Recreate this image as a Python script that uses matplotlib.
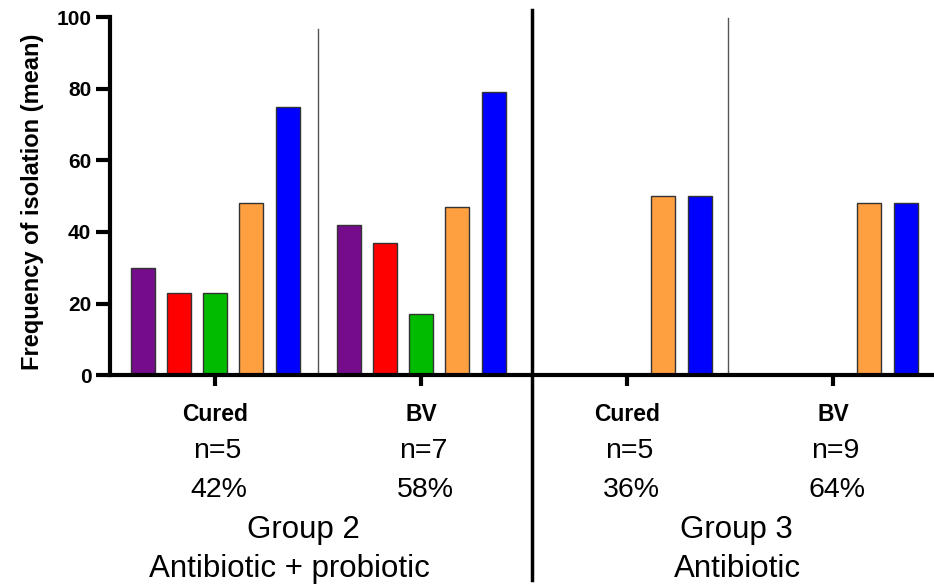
import matplotlib.pyplot as plt
import numpy as np

plt.rcParams['font.family'] = ['Liberation Sans', 'DejaVu Sans']

# data
groups = ['Cured', 'BV', 'Cured', 'BV']
n_labels = ['n=5', 'n=7', 'n=5', 'n=9']
pct_labels = ['42%', '58%', '36%', '64%']
purple = [30, 42, 0, 0]
red = [23, 37, 0, 0]
green = [23, 17, 0, 0]
orange = [48, 47, 50, 48]
blue = [75, 79, 50, 48]
series_colors = ['#740C8C', '#FF0000', '#00BB00', '#FFA040', '#0000FF']
group_names = ['Group 2', 'Group 3']
treatments = ['Antibiotic + probiotic', 'Antibiotic']

fig = plt.figure(figsize=(9.34, 5.88), dpi=100)
ax = fig.add_axes([0.1178, 0.362, 0.8822, 0.609])

x = np.arange(len(groups))
pitch = 0.176
width = 0.117
all_series = [purple, red, green, orange, blue]
for i, (vals, col) in enumerate(zip(all_series, series_colors)):
    offs = (i - 2) * pitch
    for xi, v in zip(x, vals):
        if v > 0:
            ax.bar(xi + offs, v, width=width, color=col,
                   edgecolor='#333333', linewidth=1, zorder=2)

ax.set_xlim(-0.51, 3.49)
ax.set_ylim(0, 100)
ax.set_yticks([0, 20, 40, 60, 80, 100])
ax.set_xticks(x)
ax.set_xticklabels([])

for s in ['top', 'right']:
    ax.spines[s].set_visible(False)
for s in ['left', 'bottom']:
    ax.spines[s].set_linewidth(3)
ax.tick_params(axis='y', direction='out', length=10, width=3, labelsize=15, pad=3.5)
ax.tick_params(axis='x', direction='out', length=8, width=3)
for lbl in ax.get_yticklabels():
    lbl.set_fontweight('bold')
ax.set_ylabel('Frequency of isolation (mean)', fontsize=17, fontweight='bold', labelpad=9)
ax.yaxis.label.set_y(0.483)

# separators
ax.axvline(0.5, ymin=0, ymax=0.966, color='#555555', linewidth=1, zorder=1)
ax.axvline(2.49, ymin=0, ymax=0.997, color='#555555', linewidth=1, zorder=1)
ax.axvline(1.54, ymin=-0.573, ymax=1.02, color='black', linewidth=2.5, clip_on=False)

tr = ax.get_xaxis_transform()
for xi, g, n, p in zip(x, groups, n_labels, pct_labels):
    ax.text(xi, -0.1285, g, transform=tr, ha='center', va='baseline',
            fontsize=16.5, fontweight='bold')
    ax.text(xi + 0.01, -0.2318, n, transform=tr, ha='center', va='baseline', fontsize=20.5)
    ax.text(xi + 0.02, -0.3408, p, transform=tr, ha='center', va='baseline', fontsize=20.5)

name_x = [0.431, 2.53]
treat_x = [0.36, 2.535]
for nx, tx, gname, treat in zip(name_x, treat_x, group_names, treatments):
    ax.text(nx, -0.4553, gname, transform=tr, ha='center', va='baseline', fontsize=22.5)
    ax.text(tx, -0.5642, treat, transform=tr, ha='center', va='baseline', fontsize=22.5)

fig.savefig('out.png', dpi=100)
